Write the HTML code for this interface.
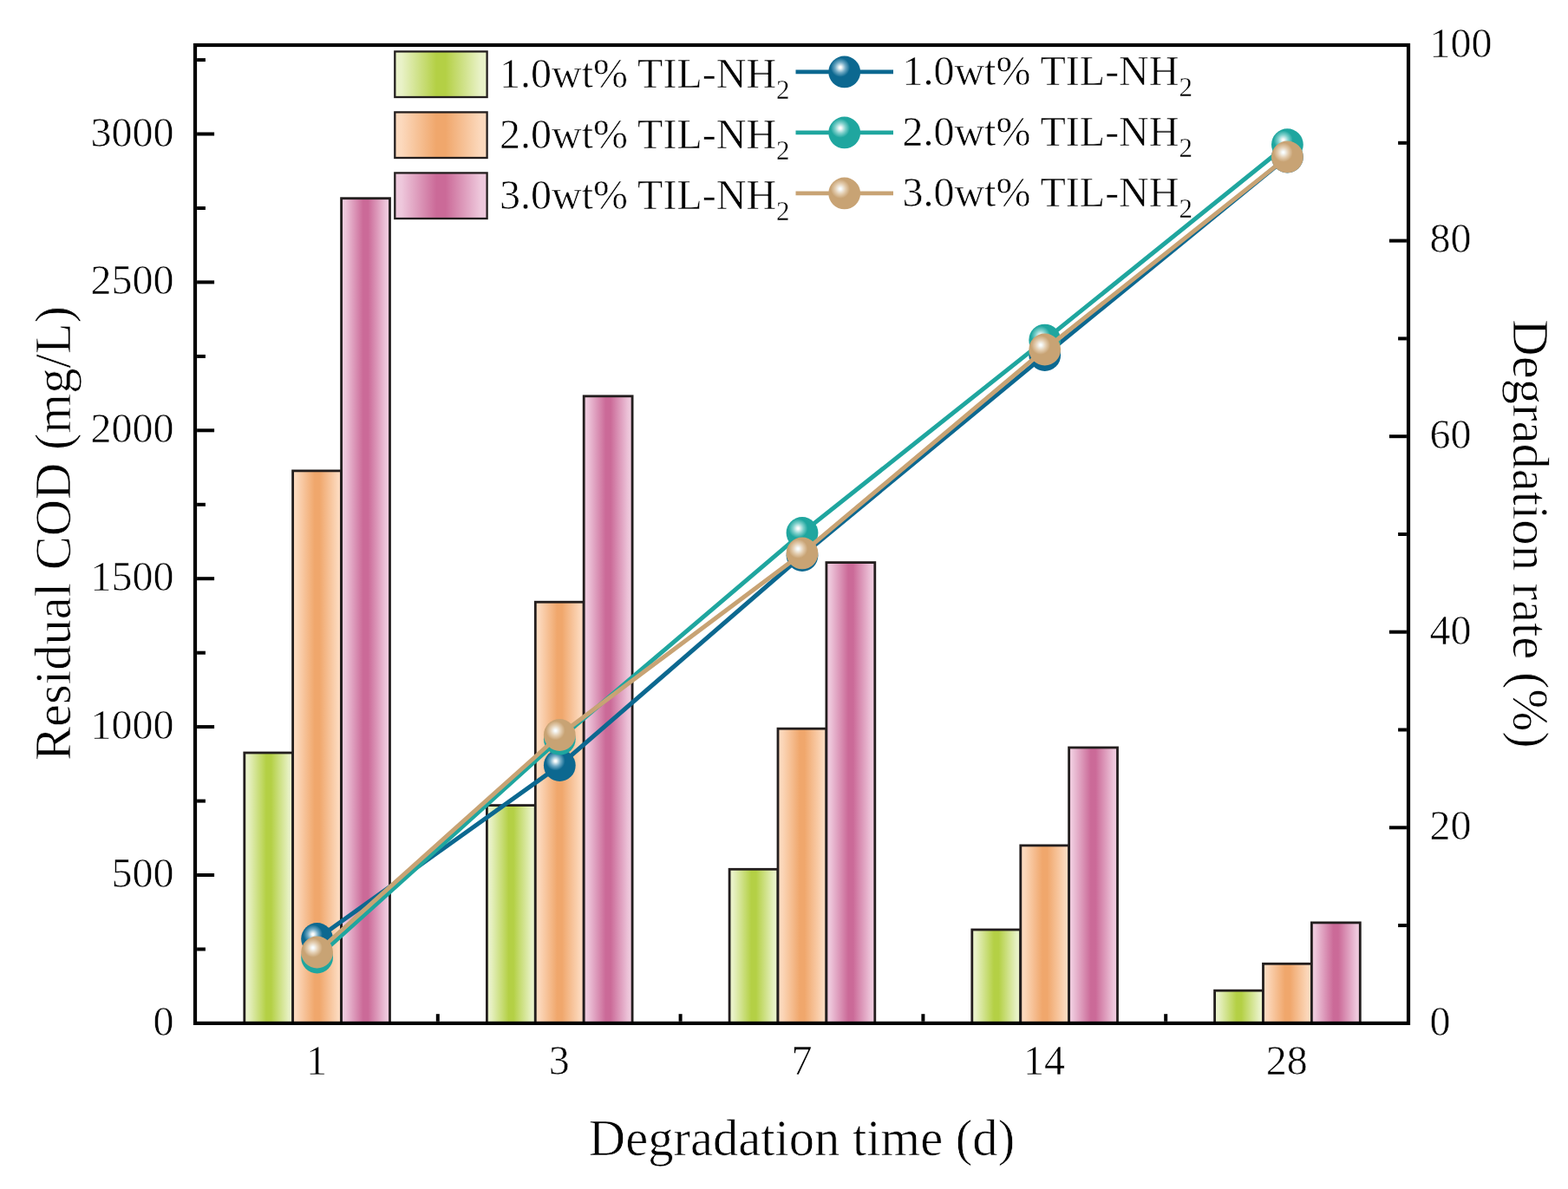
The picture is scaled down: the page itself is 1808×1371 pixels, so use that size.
<!DOCTYPE html>
<html lang="en"><head><meta charset="utf-8"><title>Residual COD and degradation rate</title>
<style>
html,body{margin:0;padding:0;background:#fff;}
body{width:1808px;height:1371px;overflow:hidden;}
svg{display:block;}
text{font-family:"Liberation Serif",serif;fill:#000;stroke:#fff;stroke-width:0.7px;stroke-linejoin:round;}
.tk{font-size:48px;stroke-width:0.6px;}
.ti{font-size:58.6px;}
.sb{font-size:31px;stroke-width:0.35px;}
</style></head><body>
<svg width="1808" height="1371" viewBox="0 0 1808 1371">
<defs>
<linearGradient id="gG" x1="0" y1="0" x2="1" y2="0"><stop offset="0" stop-color="#e9f2c8"/><stop offset="0.07" stop-color="#e9f2c8"/><stop offset="0.45" stop-color="#b4d045"/><stop offset="0.55" stop-color="#b4d045"/><stop offset="0.93" stop-color="#e9f2c8"/><stop offset="1" stop-color="#e9f2c8"/></linearGradient>
<linearGradient id="gO" x1="0" y1="0" x2="1" y2="0"><stop offset="0" stop-color="#fcd9bd"/><stop offset="0.07" stop-color="#fcd9bd"/><stop offset="0.45" stop-color="#f0a76c"/><stop offset="0.55" stop-color="#f0a76c"/><stop offset="0.93" stop-color="#fcd9bd"/><stop offset="1" stop-color="#fcd9bd"/></linearGradient>
<linearGradient id="gP" x1="0" y1="0" x2="1" y2="0"><stop offset="0" stop-color="#eec8dc"/><stop offset="0.07" stop-color="#eec8dc"/><stop offset="0.45" stop-color="#cb6a98"/><stop offset="0.55" stop-color="#cb6a98"/><stop offset="0.93" stop-color="#eec8dc"/><stop offset="1" stop-color="#eec8dc"/></linearGradient>
<radialGradient id="mB" cx="0.37" cy="0.36" r="0.30" fx="0.37" fy="0.36"><stop offset="0" stop-color="#ffffff"/><stop offset="0.12" stop-color="#f6fafa"/><stop offset="0.55" stop-color="#6fa9c4"/><stop offset="1" stop-color="#0c6890"/></radialGradient>
<radialGradient id="mT" cx="0.37" cy="0.36" r="0.30" fx="0.37" fy="0.36"><stop offset="0" stop-color="#ffffff"/><stop offset="0.12" stop-color="#f6fafa"/><stop offset="0.55" stop-color="#7fd0cb"/><stop offset="1" stop-color="#1fa69f"/></radialGradient>
<radialGradient id="mN" cx="0.37" cy="0.36" r="0.30" fx="0.37" fy="0.36"><stop offset="0" stop-color="#ffffff"/><stop offset="0.12" stop-color="#f6fafa"/><stop offset="0.55" stop-color="#e3cdb0"/><stop offset="1" stop-color="#c8a374"/></radialGradient>
</defs>
<rect x="0" y="0" width="1808" height="1371" fill="#ffffff"/>
<g stroke="#231e1e" stroke-width="2.8" stroke-linejoin="miter">
<rect x="281.8" y="868.0" width="55.9" height="311.9" fill="url(#gG)"/>
<rect x="337.6" y="542.9" width="55.9" height="637.0" fill="url(#gO)"/>
<rect x="393.6" y="228.7" width="55.9" height="951.2" fill="url(#gP)"/>
<rect x="561.4" y="928.6" width="55.9" height="251.3" fill="url(#gG)"/>
<rect x="617.3" y="694.2" width="55.9" height="485.7" fill="url(#gO)"/>
<rect x="673.2" y="456.8" width="55.9" height="723.1" fill="url(#gP)"/>
<rect x="841.1" y="1002.3" width="55.9" height="177.6" fill="url(#gG)"/>
<rect x="897.0" y="840.2" width="55.9" height="339.7" fill="url(#gO)"/>
<rect x="952.9" y="648.6" width="55.9" height="531.3" fill="url(#gP)"/>
<rect x="1120.8" y="1072.0" width="55.9" height="107.9" fill="url(#gG)"/>
<rect x="1176.8" y="974.9" width="55.9" height="205.0" fill="url(#gO)"/>
<rect x="1232.6" y="862.0" width="55.9" height="317.9" fill="url(#gP)"/>
<rect x="1400.6" y="1142.2" width="55.9" height="37.7" fill="url(#gG)"/>
<rect x="1456.5" y="1111.3" width="55.9" height="68.6" fill="url(#gO)"/>
<rect x="1512.4" y="1063.9" width="55.9" height="116.0" fill="url(#gP)"/>
</g>
<g stroke="#000" stroke-width="4.0" fill="none">
<line x1="227.1" y1="1009.0" x2="247.1" y2="1009.0"/>
<line x1="227.1" y1="838.1" x2="247.1" y2="838.1"/>
<line x1="227.1" y1="667.2" x2="247.1" y2="667.2"/>
<line x1="227.1" y1="496.3" x2="247.1" y2="496.3"/>
<line x1="227.1" y1="325.4" x2="247.1" y2="325.4"/>
<line x1="227.1" y1="154.5" x2="247.1" y2="154.5"/>
<line x1="227.1" y1="1094.5" x2="236.9" y2="1094.5"/>
<line x1="227.1" y1="923.6" x2="236.9" y2="923.6"/>
<line x1="227.1" y1="752.7" x2="236.9" y2="752.7"/>
<line x1="227.1" y1="581.8" x2="236.9" y2="581.8"/>
<line x1="227.1" y1="410.9" x2="236.9" y2="410.9"/>
<line x1="227.1" y1="240.0" x2="236.9" y2="240.0"/>
<line x1="227.1" y1="69.1" x2="236.9" y2="69.1"/>
<line x1="1621.9" y1="954.3" x2="1601.9" y2="954.3"/>
<line x1="1621.9" y1="728.7" x2="1601.9" y2="728.7"/>
<line x1="1621.9" y1="503.2" x2="1601.9" y2="503.2"/>
<line x1="1621.9" y1="277.6" x2="1601.9" y2="277.6"/>
<line x1="1621.9" y1="1067.1" x2="1612.1" y2="1067.1"/>
<line x1="1621.9" y1="841.5" x2="1612.1" y2="841.5"/>
<line x1="1621.9" y1="616.0" x2="1612.1" y2="616.0"/>
<line x1="1621.9" y1="390.4" x2="1612.1" y2="390.4"/>
<line x1="1621.9" y1="164.8" x2="1612.1" y2="164.8"/>
<line x1="504.8" y1="1177.8" x2="504.8" y2="1169.2"/>
<line x1="784.6" y1="1177.8" x2="784.6" y2="1169.2"/>
<line x1="1064.4" y1="1177.8" x2="1064.4" y2="1169.2"/>
<line x1="1344.2" y1="1177.8" x2="1344.2" y2="1169.2"/>
</g>
<rect x="225.0" y="52.0" width="1399.0" height="1127.9" fill="none" stroke="#000" stroke-width="4.2"/>
<polyline points="365.6,1082.5 645.3,882.6 925.0,640.5 1204.7,409.6 1484.4,181.0" fill="none" stroke="#0c6890" stroke-width="5.0" stroke-linejoin="round"/>
<circle cx="365.6" cy="1082.5" r="18.4" fill="url(#mB)"/>
<circle cx="645.3" cy="882.6" r="18.4" fill="url(#mB)"/>
<circle cx="925.0" cy="640.5" r="18.4" fill="url(#mB)"/>
<circle cx="1204.7" cy="409.6" r="18.4" fill="url(#mB)"/>
<circle cx="1484.4" cy="181.0" r="18.4" fill="url(#mB)"/>
<polyline points="365.6,1104.0 645.3,852.2 925.0,614.4 1204.7,392.1 1484.4,166.7" fill="none" stroke="#1fa69f" stroke-width="5.0" stroke-linejoin="round"/>
<circle cx="365.6" cy="1104.0" r="18.4" fill="url(#mT)"/>
<circle cx="645.3" cy="852.2" r="18.4" fill="url(#mT)"/>
<circle cx="925.0" cy="614.4" r="18.4" fill="url(#mT)"/>
<circle cx="1204.7" cy="392.1" r="18.4" fill="url(#mT)"/>
<circle cx="1484.4" cy="166.7" r="18.4" fill="url(#mT)"/>
<polyline points="365.6,1098.0 645.3,847.5 925.0,637.9 1204.7,403.0 1484.4,180.9" fill="none" stroke="#c8a374" stroke-width="5.0" stroke-linejoin="round"/>
<circle cx="365.6" cy="1098.0" r="18.4" fill="url(#mN)"/>
<circle cx="645.3" cy="847.5" r="18.4" fill="url(#mN)"/>
<circle cx="925.0" cy="637.9" r="18.4" fill="url(#mN)"/>
<circle cx="1204.7" cy="403.0" r="18.4" fill="url(#mN)"/>
<circle cx="1484.4" cy="180.9" r="18.4" fill="url(#mN)"/>
<rect x="455.3" y="59.4" width="106.3" height="52.6" fill="url(#gG)" stroke="#231e1e" stroke-width="2.3"/>
<rect x="455.3" y="129.4" width="106.3" height="52.6" fill="url(#gO)" stroke="#231e1e" stroke-width="2.3"/>
<rect x="455.3" y="199.4" width="106.3" height="52.6" fill="url(#gP)" stroke="#231e1e" stroke-width="2.3"/>
<text class="tk" x="576" y="101.0">1.0wt% TIL-NH<tspan class="sb" dy="12.5">2</tspan></text>
<text class="tk" x="576" y="171.0">2.0wt% TIL-NH<tspan class="sb" dy="12.5">2</tspan></text>
<text class="tk" x="576" y="241.0">3.0wt% TIL-NH<tspan class="sb" dy="12.5">2</tspan></text>
<line x1="917.5" y1="82.9" x2="1030" y2="82.9" stroke="#0c6890" stroke-width="4.8"/>
<circle cx="973.7" cy="82.9" r="18.4" fill="url(#mB)"/>
<line x1="917.5" y1="152.9" x2="1030" y2="152.9" stroke="#1fa69f" stroke-width="4.8"/>
<circle cx="973.7" cy="152.9" r="18.4" fill="url(#mT)"/>
<line x1="917.5" y1="222.9" x2="1030" y2="222.9" stroke="#c8a374" stroke-width="4.8"/>
<circle cx="973.7" cy="222.9" r="18.4" fill="url(#mN)"/>
<text class="tk" x="1040.4" y="97.8">1.0wt% TIL-NH<tspan class="sb" dy="13.3">2</tspan></text>
<text class="tk" x="1040.4" y="167.8">2.0wt% TIL-NH<tspan class="sb" dy="13.3">2</tspan></text>
<text class="tk" x="1040.4" y="237.8">3.0wt% TIL-NH<tspan class="sb" dy="13.3">2</tspan></text>
<text class="tk" x="200.6" y="1193.9" text-anchor="end">0</text>
<text class="tk" x="200.6" y="1023.0" text-anchor="end">500</text>
<text class="tk" x="200.6" y="852.1" text-anchor="end">1000</text>
<text class="tk" x="200.6" y="681.2" text-anchor="end">1500</text>
<text class="tk" x="200.6" y="510.3" text-anchor="end">2000</text>
<text class="tk" x="200.6" y="339.4" text-anchor="end">2500</text>
<text class="tk" x="200.6" y="168.5" text-anchor="end">3000</text>
<text class="tk" x="1648.6" y="1193.7">0</text>
<text class="tk" x="1648.6" y="968.1">20</text>
<text class="tk" x="1648.6" y="742.5">40</text>
<text class="tk" x="1648.6" y="517.0">60</text>
<text class="tk" x="1648.6" y="291.4">80</text>
<text class="tk" x="1648.6" y="65.8">100</text>
<text class="tk" x="365.0" y="1239.0" text-anchor="middle">1</text>
<text class="tk" x="644.7" y="1239.0" text-anchor="middle">3</text>
<text class="tk" x="924.4" y="1239.0" text-anchor="middle">7</text>
<text class="tk" x="1204.1" y="1239.0" text-anchor="middle">14</text>
<text class="tk" x="1483.8" y="1239.0" text-anchor="middle">28</text>
<text class="ti" x="924.5" y="1331.6" text-anchor="middle">Degradation time (d)</text>
<text class="ti" transform="translate(81.2 615) rotate(-90)" text-anchor="middle">Residual COD (mg/L)</text>
<text class="ti" transform="translate(1744.6 615.6) rotate(90)" text-anchor="middle">Degradation rate (%)</text>
</svg></body></html>
